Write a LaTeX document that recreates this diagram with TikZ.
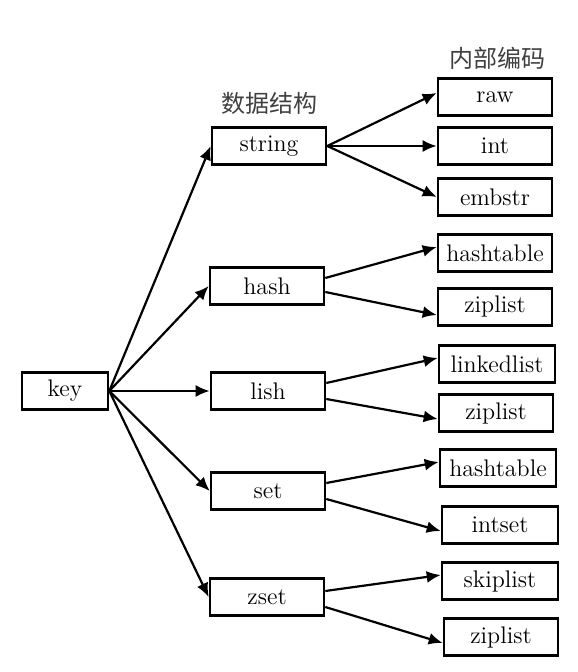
\documentclass[tikz,border=0pt]{standalone}
\usepackage{fontspec}
\newfontfamily\cjk{Noto Sans CJK SC}
\usepackage{tikz}
\usetikzlibrary{arrows.meta}
\tikzstyle{normal} = [rectangle, 
minimum width=57pt, 
minimum height=18.5pt, 
text centered, 
draw=black, 
line width=1.3pt,
font=\fontsize{12}{14}\selectfont]
\tikzstyle{title} = [font=\cjk\fontsize{12}{14}\selectfont, 
text=black!75]
\tikzstyle{arrow} = [line width=1.1pt,->,>={Latex[length=7pt,width=6pt]}]

\begin{document}
\begin{tikzpicture}[x=0.5pt,y=-0.5pt]
  \useasboundingbox (0,0) rectangle (577,672);

  \node (key) [normal, minimum width=43pt] at (65,391) {key};

  \node (dstitle) [title] at (269,103) {数据结构};
  \node (string) [normal] at (269,146) {string};
  \node (hash) [normal] at (267,286) {hash};
  \node (lish) [normal] at (268,391) {lish};
  \node (set) [normal] at (268,491) {set};
  \node (zset) [normal] at (267,597) {zset};

  \node (enctitle) [title] at (497,58) {内部编码};
  \node (raw) [normal] at (495,97) {raw};
  \node (int) [normal] at (495,146) {int};
  \node (embstr) [normal] at (495,197) {embstr};
  \node (hashtab) [normal] at (495,253) {hashtable};
  \node (zip) [normal] at (495,307) {ziplist};
  \node (linked) [normal, minimum width=58pt] at (497,364) {linkedlist};
  \node (ziplish) [normal] at (496,413) {ziplist};
  \node (hashset) [normal, minimum width=58pt] at (498,468) {hashtable};
  \node (intset) [normal, minimum width=58pt] at (500,525) {intset};
  \node (skip) [normal, minimum width=58pt] at (500,581) {skiplist};
  \node (zipzset) [normal] at (501,637) {ziplist};

  \draw [arrow] (key.east) -- (string.west);
  \draw [arrow] (key.east) -- (hash.west);
  \draw [arrow] (key.east) -- (lish.west);
  \draw [arrow] (key.east) -- (set.west);
  \draw [arrow] (key.east) -- (zset.west);

  \draw [arrow] (string.east) -- ([yshift=2pt]raw.west);
  \draw [arrow] (string.east) -- (int.west);
  \draw [arrow] (string.east) -- (embstr.west);

  \draw [arrow] ([yshift=4pt]hash.east) -- ([yshift=3pt]hashtab.west);
  \draw [arrow] ([yshift=-3pt]hash.east) -- ([yshift=-4pt]zip.west);
  \draw [arrow] ([yshift=4pt]lish.east) -- ([yshift=3pt]linked.west);
  \draw [arrow] ([yshift=-4pt]lish.east) -- ([yshift=-3pt]ziplish.west);
  \draw [arrow] ([yshift=4pt]set.east) -- ([yshift=3pt]hashset.west);
  \draw [arrow] ([yshift=-4pt]set.east) -- ([yshift=-3pt]intset.west);
  \draw [arrow] ([yshift=3pt]zset.east) -- ([yshift=3pt]skip.west);
  \draw [arrow] ([yshift=-5pt]zset.east) -- ([yshift=-3pt]zipzset.west);

\end{tikzpicture}
\end{document}
